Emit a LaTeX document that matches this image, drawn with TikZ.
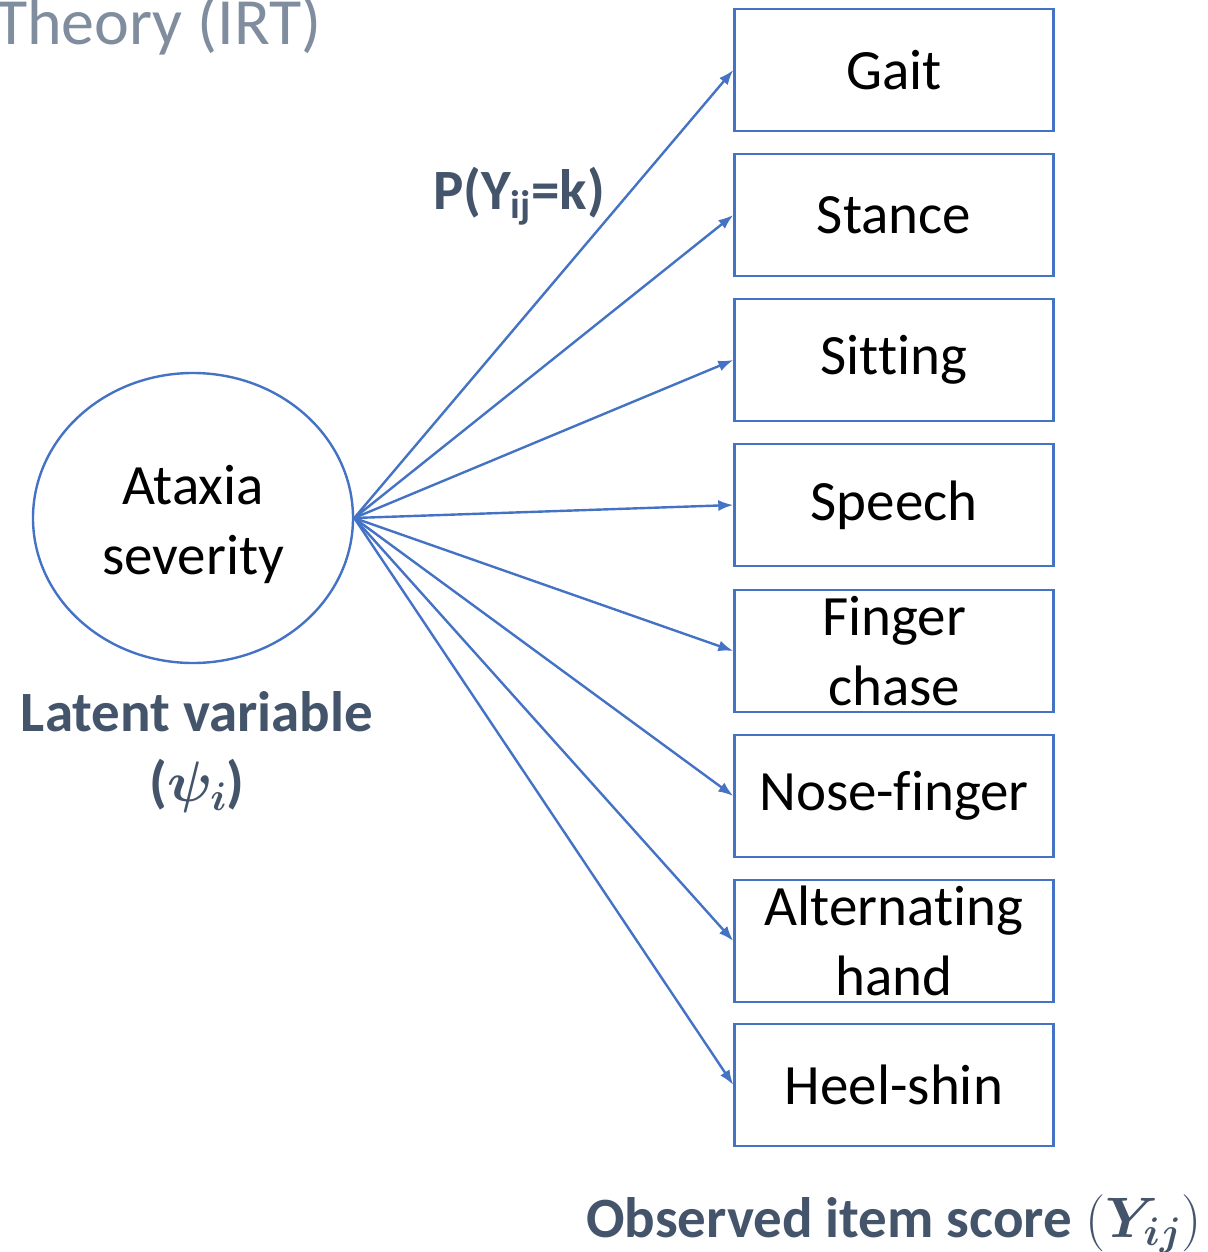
\RequirePackage{fix-cm}
\documentclass[tikz,border=0pt]{standalone}
\usepackage{fontspec}
\setmainfont{Carlito}[Ligatures=CommonOff]
\usepackage{amsmath,amssymb,bm}
\usetikzlibrary{shapes.geometric,arrows.meta}

\definecolor{itemblue}{HTML}{4472C4}
\definecolor{slate}{HTML}{44546A}
\definecolor{titlegray}{HTML}{808D9E}

\tikzset{
    item/.style={draw=itemblue, line width=2.4pt, minimum width=319pt,
        minimum height=122pt, inner sep=0pt, align=center,
        font=\fontsize{57}{70}\selectfont},
    link/.style={draw=itemblue, line width=2.4pt,
        -{Latex[length=15pt,width=11pt]}},
    tag/.style={text=slate, align=center,
        font=\fontsize{57}{70}\selectfont\bfseries}
}

\begin{document}
\begin{tikzpicture}[x=1pt,y=-1pt]
    \useasboundingbox (0,0) rectangle (1207,1252);
    % Title cut at the top
    \node (title) [anchor=base east, text=titlegray, inner sep=0pt,
        font=\fontsize{66}{70}\selectfont] at (322,45) {Theory (IRT)};
    % Latent variable
    \node (sev) [draw=itemblue, line width=2.4pt, ellipse, minimum width=320pt,
        minimum height=290pt, inner sep=0pt] at (193,518) {};
    \node (sevtxt) [align=center, font=\fontsize{57}{70}\selectfont]
        at (193,524) {Ataxia\\severity};
    \node (latent) [tag] at (197,752) {Latent variable\\($\bm{\psi_i}$)};
    % Observed items
    \node (gait)  [item] at (894,70)   {Gait};
    \node (stance)[item] at (894,215)  {Stance};
    \node (sit)   [item] at (894,360)  {Sitting};
    \node (speech)[item] at (894,505)  {Speech};
    \node (chase) [item] at (894,651)  {Finger\\chase};
    \node (nose)  [item] at (894,796)  {Nose-finger};
    \node (alt)   [item] at (894,941)  {Alternating\\hand};
    \node (heel)  [item] at (894,1085) {Heel-shin};
    \node (obs) [tag, anchor=base] at (894,1237)
        {Observed item score $(\bm{Y_{ij}})$};
    \node (prob) [tag] at (519,196) {P(Y\textsubscript{ij}=k)};
    % Connectors
    \draw [link] (sev.east) -- (gait.west);
    \draw [link] (sev.east) -- (stance.west);
    \draw [link] (sev.east) -- (sit.west);
    \draw [link] (sev.east) -- (speech.west);
    \draw [link] (sev.east) -- (chase.west);
    \draw [link] (sev.east) -- (nose.west);
    \draw [link] (sev.east) -- (alt.west);
    \draw [link] (sev.east) -- (heel.west);
\end{tikzpicture}
\end{document}
